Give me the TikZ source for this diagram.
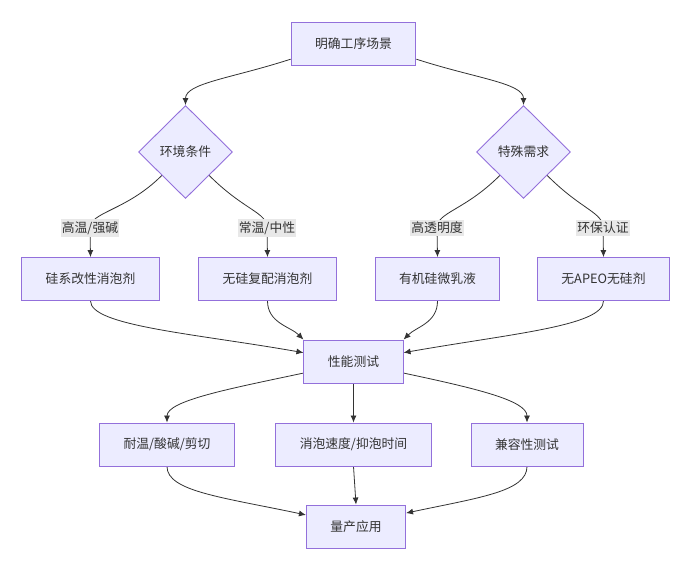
\documentclass[tikz,border=0pt]{standalone}
\usepackage{fontspec}
\usepackage{xcolor}
\usepackage{tikz}
\usetikzlibrary{shapes.geometric}
\usetikzlibrary{arrows.meta}
\usetikzlibrary{backgrounds}
\newfontfamily\cjk{Noto Sans CJK SC}
\definecolor{boxfill}{HTML}{ECECFF}
\definecolor{boxline}{HTML}{9370DB}
\definecolor{inktext}{HTML}{333333}
\definecolor{lblfill}{HTML}{E8E8E8}
\tikzset{%
  procbox/.style={rectangle,fill=boxfill,draw=boxline,line width=0.9pt,minimum height=43pt,inner xsep=24pt,text=inktext,font=\cjk\fontsize{12.8}{15}\selectfont}
}
\tikzset{%
  decbox/.style={diamond,aspect=1,fill=boxfill,draw=boxline,line width=0.9pt,minimum width=94pt,minimum height=93pt,inner sep=0pt,text=inktext,font=\cjk\fontsize{12.8}{15}\selectfont}
}
\tikzset{%
  edgelbl/.style={rectangle,fill=lblfill,inner xsep=1pt,inner ysep=2pt,text=inktext,font=\cjk\fontsize{12.8}{15}\selectfont}
}
\tikzset{%
  flowline/.style={draw=inktext,line width=0.8pt,-{Latex[length=7pt,width=6pt]}}
}

\begin{document}
\begin{tikzpicture}[x=1pt,y=-1pt]
            \useasboundingbox (0,0) rectangle (690,571);
            \node[procbox](scene) at (353.5,43.5){明确工序场景};
            \node[decbox](envdec) at (185.5,152){环境条件};
            \node[decbox](needdec) at (523.5,152){特殊需求};

            \node[edgelbl](lblhot) at (90,228){高温/强碱};
            \node[edgelbl](lblroom) at (267,228){常温/中性};
            \node[edgelbl](lblclear) at (437,228){高透明度};
            \node[edgelbl](lbleco) at (603,228){环保认证};

            \node[procbox](agsil) at (90.5,279){硅系改性消泡剂};
            \node[procbox](agnosil) at (267.5,279){无硅复配消泡剂};
            \node[procbox](agemul) at (437.5,279){有机硅微乳液};
            \node[procbox](agfree) at (603.5,279){无APEO无硅剂};

            \node[procbox](perftest) at (353.5,361.5){性能测试};

            \node[procbox](tsttemp) at (167,444.5){耐温/酸碱/剪切};
            \node[procbox](tstspeed) at (353.5,444.5){消泡速度/抑泡时间};
            \node[procbox](tstcompat) at (527,444.5){兼容性测试};

            \node[procbox](massprod) at (356,526.5){量产应用};

            \begin{scope}[on background layer]
            \draw[flowline] (scene.194) to[out=198,in=90,out distance=62pt,in distance=22pt] (envdec.north);
            \draw[flowline] (scene.346) to[out=-18,in=90,out distance=62pt,in distance=22pt] (needdec.north);

            \draw[flowline] (envdec.south west) to[out=225,in=90,out distance=50pt,in distance=16pt] (lblhot.center) -- (agsil.north);
            \draw[flowline] (envdec.south east) to[out=-45,in=90,out distance=50pt,in distance=16pt] (lblroom.center) -- (agnosil.north);
            \draw[flowline] (needdec.south west) to[out=225,in=90,out distance=50pt,in distance=16pt] (lblclear.center) -- (agemul.north);
            \draw[flowline] (needdec.south east) to[out=-45,in=90,out distance=50pt,in distance=16pt] (lbleco.center) -- (agfree.north);

            \draw[flowline] (agsil.south) to[out=-90,in=170,out distance=25pt,in distance=110pt] (perftest.170);
            \draw[flowline] (agnosil.south) to[out=-90,in=135,out distance=22pt,in distance=18pt] (perftest.north west);
            \draw[flowline] (agemul.south) to[out=-90,in=45,out distance=22pt,in distance=18pt] (perftest.north east);
            \draw[flowline] (agfree.south) to[out=-90,in=10,out distance=25pt,in distance=110pt] (perftest.10);

            \draw[flowline] (perftest.193) to[out=192,in=90,out distance=75pt,in distance=22pt] (tsttemp.north);
            \draw[flowline] (perftest.south) -- (tstspeed.north);
            \draw[flowline] (perftest.347) to[out=-12,in=90,out distance=75pt,in distance=22pt] (tstcompat.north);

            \draw[flowline] (tsttemp.south) to[out=-90,in=168,out distance=25pt,in distance=85pt] (massprod.167);
            \draw[flowline] (tstspeed.south) -- (massprod.north);
            \draw[flowline] (tstcompat.south) to[out=-90,in=12,out distance=25pt,in distance=75pt] (massprod.15);
            \end{scope}
        \end{tikzpicture}
\end{document}
